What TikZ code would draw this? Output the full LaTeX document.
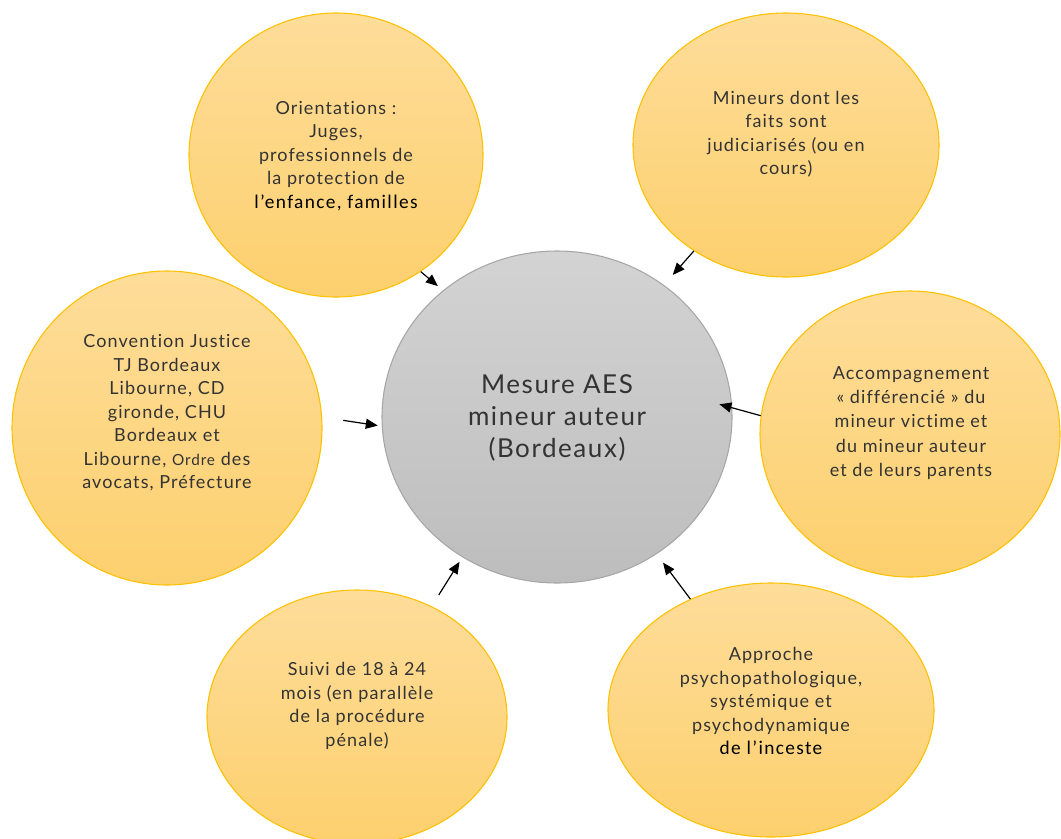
\documentclass[tikz,border=0pt]{standalone}
\usepackage{fontspec}
\setmainfont{Lato}[LetterSpace=6,Ligatures={NoCommon}]
\newfontfamily\calib{Carlito}[LetterSpace=7]
\usetikzlibrary{shapes.geometric,arrows.meta}
\definecolor{yTop}{HTML}{FEDD9A}
\definecolor{yBot}{HTML}{FDD06E}
\definecolor{yBord}{HTML}{FFC000}
\definecolor{gTop}{HTML}{D3D3D3}
\definecolor{gBot}{HTML}{BDBDBD}
\definecolor{gBord}{HTML}{A6A6A6}
\definecolor{txtc}{HTML}{333333}
\begin{document}
\begin{tikzpicture}[x=0.75pt,y=-0.75pt,
  bub/.style 2 args={ellipse, draw=yBord, line width=0.8pt, top color=yTop, bottom color=yBot,
    minimum width={1.5pt*#1}, minimum height={1.5pt*#2}, inner sep=0pt},
  hub/.style 2 args={ellipse, draw=gBord, line width=0.8pt, top color=gTop, bottom color=gBot,
    minimum width={1.5pt*#1}, minimum height={1.5pt*#2}, inner sep=0pt},
  txt/.style={align=center, text=txtc, inner sep=0pt, font=\fontsize{13.5}{17.6}\selectfont},
  arr/.style={-{Triangle[length=9pt,width=7.5pt]}, line width=0.9pt, draw=black}]
\clip (0,0) rectangle (1061,839);
% bubbles
\node[hub={175}{166}] (c) at (557,417) {};
\node[bub={147}{142}] (tl) at (336,155) {};
\node[bub={153}{132}] (tr) at (786,145) {};
\node[bub={155}{157}] (l) at (167,428) {};
\node[bub={150}{143}] (r) at (910,434) {};
\node[bub={150}{127}] (bl) at (357,717) {};
\node[bub={163}{127}] (br) at (771,710) {};
% texts
\node[txt, font=\fontsize{19.5}{24}\selectfont] (ct) at (557,418) {Mesure AES\\mineur auteur\\(Bordeaux)};
\node[txt] (tlt) at (336,156) {Orientations :\\Juges,\\professionnels de\\la protection de\\{\calib\fontsize{14.5}{17.6}\selectfont\color{black}l’enfance, familles}};
\node[txt] (trt) at (786,134) {Mineurs dont les\\faits sont\\judiciarisés (ou en\\cours)};
\node[txt] (lt) at (167,413) {Convention Justice\\TJ Bordeaux\\Libourne, CD\\gironde, CHU\\Bordeaux et\\Libourne, {\fontsize{11.5}{17.6}\selectfont Ordre} des\\avocats, Préfecture};
\node[txt, font=\fontsize{13.5}{18.2}\selectfont] (rt) at (911,423) {Accompagnement\\« différencié » du\\mineur victime et\\du mineur auteur\\et de leurs parents};
\node[txt] (blt) at (357,706) {Suivi de 18 à 24\\mois (en parallèle\\de la procédure\\pénale)};
\node[txt] (brt) at (771,701) {Approche\\psychopathologique,\\systémique et\\psychodynamique\\{\calib\fontsize{14.5}{17.6}\selectfont\color{black}de l’inceste}};
% arrows
\draw[arr, shorten >=5pt] (tl.-54) -- (c.132);
\draw[arr, shorten >=10pt] (tr.229) -- (c.51);
\draw[arr, shorten <=16pt, shorten >=3pt] (l.4) -- (c.183);
\draw[arr, shorten >=-10pt] (r.173) -- (c.3);
\draw[arr, shorten <=10pt, shorten >=4pt] (bl.56) -- (c.236);
\draw[arr, shorten >=8pt] (br.126) -- (c.-54);
\end{tikzpicture}
\end{document}
